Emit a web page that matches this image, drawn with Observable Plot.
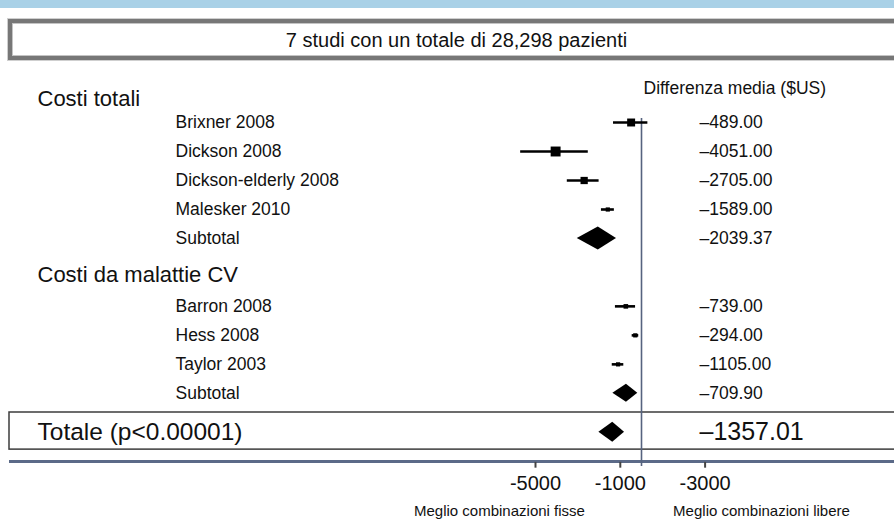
<!DOCTYPE html>
<html><head><meta charset="utf-8">
<script src="https://cdn.jsdelivr.net/npm/d3@7"></script>
<script src="https://cdn.jsdelivr.net/npm/@observablehq/plot@0.6"></script>
<style>
html,body{margin:0;padding:0;background:#fff;overflow:hidden;width:894px;height:523px;}
body{position:relative;font-family:"Liberation Sans",Arial,sans-serif;}
#band{position:absolute;left:0;top:0;width:894px;height:8px;background:#a9d1e7;}
#title{position:absolute;left:8px;top:19px;width:897px;height:41px;box-sizing:border-box;border:4px solid #777;box-shadow:0 0 0 1px #cfcfcf, inset 0 0 0 1px #c4c4c4;display:flex;align-items:center;justify-content:center;font-size:20px;color:#111;padding-top:1px;}
#chart{position:absolute;left:0;top:64px;}
</style></head><body>
<div id="band"></div>
<div id="title"></div>
<div id="chart"></div>
<script>
// ---------- data ----------
const title = "7 studi con un totale di 28,298 pazienti";
const groups = ["Costi totali", "Costi da malattie CV"];
const studies = ["Brixner 2008","Dickson 2008","Dickson-elderly 2008","Malesker 2010","Barron 2008","Hess 2008","Taylor 2003"];
const studyGroup = [0,0,0,0,1,1,1];
const studyMean = [-489,-4051,-2705,-1589,-739,-294,-1105];
const studyLow = [-1320,-5700,-3500,-1890,-1230,-440,-1380];
const studyHigh = [300,-2510,-2000,-1280,-280,-130,-835];
const studyWeight = [18,28,15,5,6,5,5];
const subtotalLabel = "Subtotal";
const subtotalMean = [-2039.37,-709.90];
const subtotalLow = [-3030,-1350];
const subtotalHigh = [-1180,-175];
const overallLabel = "Totale (p<0.00001)";
const overallMean = -1357.01;
const overallLow = -2010;
const overallHigh = -800;
const valueHeader = "Differenza media ($US)";
const tickValues = [-5000,-1000,3000];
const tickLabels = ["-5000","-1000","-3000"];
const sideLabels = ["Meglio combinazioni fisse","Meglio combinazioni libere"];

// ---------- layout (row units) ----------
const groupHeaderRow = [0.2, 6.24];
const groupFirstRow = [1, 7.34];
const diamondHalf = [0.4, 0.31, 0.345];
const fmt = v => "\u2013" + Math.abs(v).toFixed(2);

document.getElementById("title").textContent = title;

const counters = [0,0];
const rows = studies.map((s,i) => {
  const g = studyGroup[i];
  return {label:s, mean:studyMean[i], lo:studyLow[i], hi:studyHigh[i], w:studyWeight[i], row: groupFirstRow[g] + counters[g]++};
});
const subs = subtotalMean.map((m,g) => ({label:subtotalLabel, mean:m, lo:subtotalLow[g], hi:subtotalHigh[g], row: groupFirstRow[g] + counters[g], h: diamondHalf[g]}));
const overall = {label:overallLabel, mean:overallMean, lo:overallLow, hi:overallHigh, row: 11.68, h: diamondHalf[2]};
const diamonds = [...subs, overall].flatMap((d,i) => [
  {id:i, y:d.row - d.h, x1:d.mean, x2:d.mean},
  {id:i, y:d.row, x1:d.lo, x2:d.hi},
  {id:i, y:d.row + d.h, x1:d.mean, x2:d.mean}
]);
const labelRows = [...rows, ...subs];

const font = "'Liberation Sans', Arial, sans-serif";
const ink = "#111";

const chart = Plot.plot({
  width: 894, height: 459,
  marginTop: 0, marginBottom: 0, marginRight: 0, marginLeft: 9,
  x: {domain: [-5000, 3000], range: [535, 704.6], axis: null},
  y: {domain: [0, 14], range: [29, 435], axis: null},
  r: {type: "sqrt", domain: [0, 28], range: [0, 5.6]},
  style: {fontFamily: font, color: ink, background: "transparent"},
  marks: [
    Plot.rect([overall], {y1: d => d.row - 0.68, y2: d => d.row + 0.6, fill: "white", stroke: "#3c3c3c", strokeWidth: 1.5, insetRight: -6}),
    Plot.ruleY([overall], {y: d => d.row + 1.01, stroke: "#5b6a88", strokeWidth: 3}),
    Plot.ruleX([0], {y1: 0.86, y2: 12.86, stroke: "#56637f", strokeWidth: 1.6}),
    Plot.ruleX(tickValues, {y1: 12.72, y2: 12.92, stroke: "#444", strokeWidth: 2}),
    Plot.ruleY(rows, {y: "row", x1: "lo", x2: "hi", stroke: "#000", strokeWidth: 2.6}),
    Plot.dot(rows, {x: "mean", y: "row", r: "w", symbol: "square", fill: "#000", stroke: null}),
    Plot.areaX(diamonds, {y: "y", x1: "x1", x2: "x2", z: "id", fill: "#000", curve: "linear"}),
    Plot.text(groups, {frameAnchor: "left", dx: 28, y: (d,i) => groupHeaderRow[i], text: d => d, textAnchor: "start", fontSize: 22, fill: ink}),
    Plot.text(labelRows, {frameAnchor: "left", dx: 166, y: "row", text: "label", textAnchor: "start", fontSize: 17.5, fill: ink}),
    Plot.text(labelRows, {frameAnchor: "left", dx: 690, y: "row", text: d => fmt(d.mean), textAnchor: "start", fontSize: 17.5, fill: ink}),
    Plot.text([valueHeader], {frameAnchor: "left", dx: 634, y: -0.17, text: d => d, textAnchor: "start", fontSize: 17.5, fill: ink}),
    Plot.text([overall], {frameAnchor: "left", dx: 28, y: "row", text: "label", textAnchor: "start", fontSize: 24.5, fill: ink}),
    Plot.text([overall], {frameAnchor: "left", dx: 690, y: "row", text: d => fmt(d.mean), textAnchor: "start", fontSize: 25, fill: ink}),
    Plot.text(tickValues, {x: d => d, y: 13.45, text: (d,i) => tickLabels[i], fontSize: 20, fill: ink}),
    Plot.text(sideLabels, {x: (d,i) => [-6700, 5660][i], y: 14.42, text: d => d, fontSize: 15, fill: ink})
  ]
});
document.getElementById("chart").appendChild(chart);
</script>
</body></html>
